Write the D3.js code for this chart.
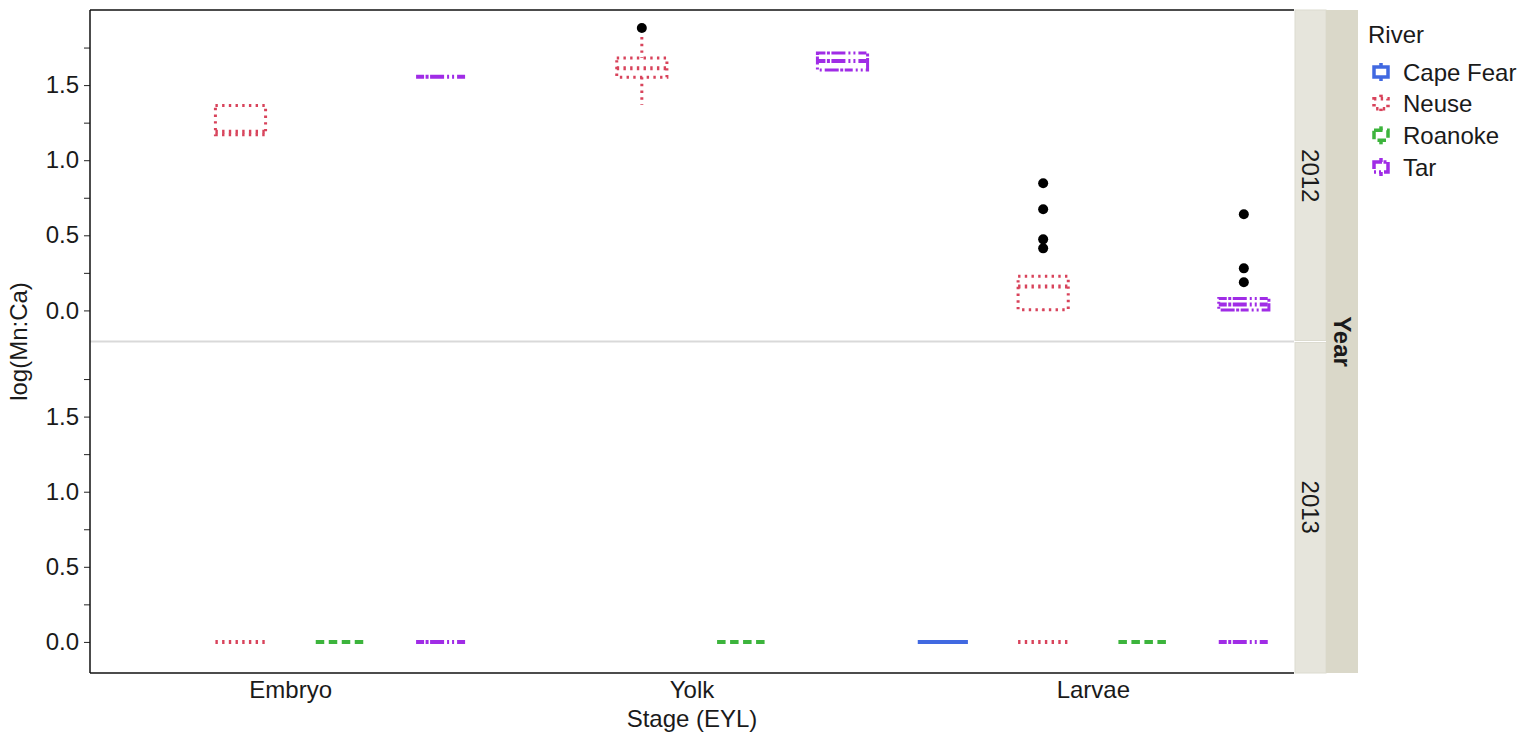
<!DOCTYPE html>
<html>
<head>
<meta charset="utf-8">
<script src="https://cdn.jsdelivr.net/npm/d3@7"></script>
<style>
  html, body { margin: 0; padding: 0; background: #fff; }
  svg { display: block; font-family: "Liberation Sans", Arial, sans-serif; }
</style>
</head>
<body>
<svg id="chart" width="1536" height="738"></svg>
<script>
// ---------- data ----------
const stages = ["Embryo", "Yolk", "Larvae"];
const rivers = ["Cape Fear", "Neuse", "Roanoke", "Tar"];
const years = ["2012", "2013"];
const yTicks = [0, 0.5, 1.0, 1.5];
const yMinorTicks = [0.25, 0.75, 1.25, 1.75];

// box statistics (one entry per box)
const boxYear  = ["2012","2012","2012","2012","2012","2012","2013","2013","2013","2013","2013","2013","2013","2013"];
const boxStage = ["Embryo","Embryo","Yolk","Yolk","Larvae","Larvae","Embryo","Embryo","Embryo","Yolk","Larvae","Larvae","Larvae","Larvae"];
const boxRiver = ["Neuse","Tar","Neuse","Tar","Neuse","Tar","Neuse","Roanoke","Tar","Roanoke","Cape Fear","Neuse","Roanoke","Tar"];
const boxLow   = [1.17, 1.555, 1.37, 1.60, 0.0, 0.0, 0, 0, 0, 0, 0, 0, 0, 0];
const boxQ1    = [1.17, 1.555, 1.553, 1.60, 0.005, 0.003, 0, 0, 0, 0, 0, 0, 0, 0];
const boxMed   = [1.19, 1.555, 1.613, 1.66, 0.16, 0.04, 0, 0, 0, 0, 0, 0, 0, 0];
const boxQ3    = [1.365, 1.555, 1.68, 1.713, 0.227, 0.08, 0, 0, 0, 0, 0, 0, 0, 0];
const boxHigh  = [1.365, 1.555, 1.82, 1.713, 0.227, 0.08, 0, 0, 0, 0, 0, 0, 0, 0];

// outliers
const outYear  = ["2012","2012","2012","2012","2012","2012","2012","2012"];
const outStage = ["Yolk","Larvae","Larvae","Larvae","Larvae","Larvae","Larvae","Larvae"];
const outRiver = ["Neuse","Neuse","Neuse","Neuse","Neuse","Tar","Tar","Tar"];
const outValue = [1.88, 0.847, 0.673, 0.473, 0.413, 0.64, 0.28, 0.187];

// ---------- styles ----------
const colors = { "Cape Fear": "#4169E1", "Neuse": "#D8435B", "Roanoke": "#3CB43C", "Tar": "#A02CE6" };
const dashes = { "Cape Fear": null, "Neuse": "2.4,4.3", "Roanoke": "8.5,4.5", "Tar": "8,1.5,3,1.5,14,3,2,3,2,3" };
const textColor = "#1a1a1a";
const fontSize = 24;

const boxes = boxYear.map((y, i) => ({
  year: y, stage: boxStage[i], river: boxRiver[i],
  low: boxLow[i], q1: boxQ1[i], med: boxMed[i], q3: boxQ3[i], high: boxHigh[i]
}));
const outliers = outYear.map((y, i) => ({ year: y, stage: outStage[i], river: outRiver[i], value: outValue[i] }));

// ---------- layout ----------
const svg = d3.select("#chart");
const plotLeft = 90, plotRight = 1294;
const panelTop = 10, panelBottom = 673;
const panelH = (panelBottom - panelTop) / 2;

const x = d3.scaleBand().domain(stages).range([plotLeft, plotRight]).padding(0);
const xSub = d3.scaleBand().domain(rivers).range([0, x.bandwidth()]).padding(0);
const boxW = xSub.bandwidth() * 0.5;

const yDomain = [-0.207, 2.0];
const yScales = {};
years.forEach((yr, i) => {
  const top = panelTop + i * panelH;
  yScales[yr] = d3.scaleLinear().domain(yDomain).range([top + panelH, top]);
});

// panels
years.forEach((yr, i) => {
  const ys = yScales[yr];
  const g = svg.append("g");
  const cx = d => x(d.stage) + xSub(d.river) + xSub.bandwidth() / 2;

  const bx = g.selectAll("g.box").data(boxes.filter(b => b.year === yr)).join("g")
    .attr("fill", "none")
    .attr("stroke", d => colors[d.river])
    .attr("stroke-dasharray", d => dashes[d.river])
    .attr("stroke-width", 3);

  // whiskers
  bx.append("line")
    .attr("x1", cx).attr("x2", cx)
    .attr("y1", d => ys(d.high)).attr("y2", d => ys(d.q3))
    .attr("display", d => d.high > d.q3 ? null : "none");
  bx.append("line")
    .attr("x1", cx).attr("x2", cx)
    .attr("y1", d => ys(d.q1)).attr("y2", d => ys(d.low))
    .attr("display", d => d.q1 > d.low ? null : "none");
  // box
  bx.append("rect")
    .attr("x", d => cx(d) - boxW / 2)
    .attr("width", boxW)
    .attr("y", d => ys(d.q3))
    .attr("height", d => Math.max(0, ys(d.q1) - ys(d.q3)));
  // median
  bx.append("line")
    .attr("x1", d => cx(d) - boxW / 2).attr("x2", d => cx(d) + boxW / 2)
    .attr("y1", d => ys(d.med)).attr("y2", d => ys(d.med))
    .attr("stroke-width", 4);

  // outliers
  g.selectAll("circle").data(outliers.filter(o => o.year === yr)).join("circle")
    .attr("cx", cx)
    .attr("cy", d => ys(d.value))
    .attr("r", 5)
    .attr("fill", "#000");

  // y axis
  const ax = svg.append("g")
    .attr("transform", `translate(${plotLeft},0)`)
    .call(d3.axisLeft(ys).tickValues(yTicks).tickFormat(d3.format(".1f")).tickSize(6).tickPadding(5));
  ax.select(".domain").remove();
  ax.selectAll("line").attr("stroke", "#222");
  ax.selectAll("text").attr("font-size", fontSize).attr("fill", textColor)
    .attr("font-family", "'Liberation Sans', Arial, sans-serif");
  const axm = svg.append("g")
    .attr("transform", `translate(${plotLeft},0)`)
    .call(d3.axisLeft(ys).tickValues(yMinorTicks).tickFormat("").tickSize(6));
  axm.select(".domain").remove();
  axm.selectAll("line").attr("stroke", "#222");
});

// panel separator
svg.append("line")
  .attr("x1", plotLeft).attr("x2", plotRight)
  .attr("y1", panelTop + panelH).attr("y2", panelTop + panelH)
  .attr("stroke", "#d9d9d9").attr("stroke-width", 2);

// axis lines (left, bottom, top)
svg.append("line").attr("x1", plotLeft).attr("x2", plotLeft).attr("y1", panelTop).attr("y2", panelBottom)
  .attr("stroke", "#111").attr("stroke-width", 1.5);
svg.append("line").attr("x1", plotLeft).attr("x2", plotRight).attr("y1", panelBottom).attr("y2", panelBottom)
  .attr("stroke", "#111").attr("stroke-width", 1.5);
svg.append("line").attr("x1", plotLeft).attr("x2", plotRight).attr("y1", panelTop).attr("y2", panelTop)
  .attr("stroke", "#111").attr("stroke-width", 1.5);

// x axis labels
const xa = svg.append("g").attr("transform", `translate(0,${panelBottom})`)
  .call(d3.axisBottom(x).tickSize(0).tickPadding(8));
xa.select(".domain").remove();
xa.selectAll("text").attr("font-size", fontSize).attr("fill", textColor)
  .attr("font-family", "'Liberation Sans', Arial, sans-serif");

// axis titles
svg.append("text").attr("x", (plotLeft + plotRight) / 2).attr("y", 727)
  .attr("text-anchor", "middle").attr("font-size", fontSize).attr("fill", textColor)
  .text("Stage (EYL)");
svg.append("text").attr("transform", `translate(27,${panelTop + panelH}) rotate(-90)`)
  .attr("text-anchor", "middle").attr("font-size", fontSize).attr("fill", textColor)
  .text("log(Mn:Ca)");

// strips
const strip1X = 1295, strip1W = 31, strip2X = 1326, strip2W = 32;
years.forEach((yr, i) => {
  const top = panelTop + i * panelH;
  svg.append("rect").attr("x", strip1X).attr("y", top + (i ? 1 : 0)).attr("width", strip1W).attr("height", panelH - 1)
    .attr("fill", "#E6E5DC").attr("stroke", "#DCDBD0").attr("stroke-width", 1);
  svg.append("text")
    .attr("transform", `translate(${strip1X + strip1W / 2},${top + panelH / 2}) rotate(90)`)
    .attr("text-anchor", "middle").attr("dominant-baseline", "central")
    .attr("font-size", fontSize).attr("fill", textColor).text(yr);
});
svg.append("rect").attr("x", strip2X).attr("y", panelTop).attr("width", strip2W).attr("height", panelBottom - panelTop)
  .attr("fill", "#DAD8C9");
svg.append("text")
  .attr("transform", `translate(${strip2X + strip2W / 2},${panelTop + panelH}) rotate(90)`)
  .attr("text-anchor", "middle").attr("dominant-baseline", "central")
  .attr("font-size", fontSize).attr("font-weight", "bold").attr("fill", textColor).text("Year");

// legend
const lg = svg.append("g");
lg.append("text").attr("x", 1368).attr("y", 43).attr("font-size", fontSize).attr("fill", textColor).text("River");
const legRow = d3.scalePoint().domain(rivers).range([72, 167]);
rivers.forEach(r => {
  const cy = legRow(r), kx = 1381;
  const k = lg.append("g").attr("fill", "none").attr("stroke", colors[r])
    .attr("stroke-dasharray", dashes[r]).attr("stroke-width", 3.5);
  k.append("line").attr("x1", kx).attr("x2", kx).attr("y1", cy - 9).attr("y2", cy - 5);
  k.append("line").attr("x1", kx).attr("x2", kx).attr("y1", cy + 5).attr("y2", cy + 9);
  k.append("rect").attr("x", kx - 7).attr("y", cy - 5).attr("width", 14).attr("height", 10);
  lg.append("text").attr("x", 1403).attr("y", cy).attr("dominant-baseline", "central")
    .attr("font-size", fontSize).attr("fill", textColor).text(r);
});
</script>
</body>
</html>
